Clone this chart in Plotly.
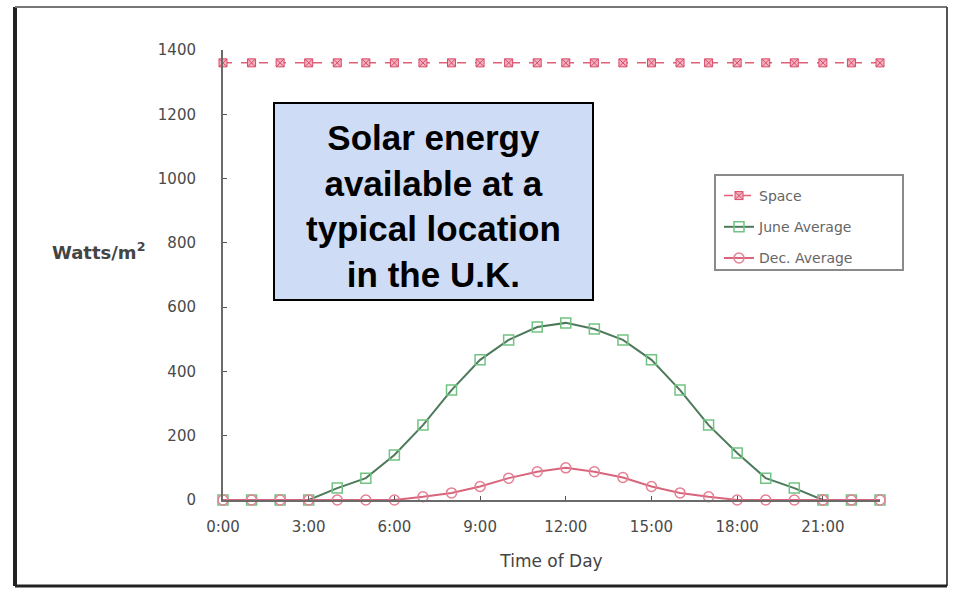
import plotly.graph_objects as go

# ---------------- data ----------------
hours = list(range(24))
hour_labels = ["0:00", "3:00", "6:00", "9:00", "12:00", "15:00", "18:00", "21:00"]
label_hours = [0, 3, 6, 9, 12, 15, 18, 21]

space = [1360] * 24
june_avg = [0, 0, 0, 0, 37, 68, 140, 233, 342, 436, 498, 538, 551, 532, 498, 436, 342, 233, 146, 68, 37, 0, 0, 0]
dec_avg = [0, 0, 0, 0, 0, 0, 0, 10, 22, 42, 68, 88, 100, 88, 70, 42, 22, 10, 0, 0, 0, 0, 0, 0]

y_ticks = [0, 200, 400, 600, 800, 1000, 1200, 1400]

# ---------------- layout geometry ----------------
W, H = 961, 597
L, R, T, B = 223, 81, 50, 97
PW, PH = W - L - R, H - T - B


def fx(p):
    return (p - L) / PW


def fy(p):
    return (H - B - p) / PH


TICK_FONT = dict(family="DejaVu Sans", size=15, color="#4a4a4a")

fig = go.Figure()

fig.add_trace(go.Scatter(
    x=hours, y=space, name="Space", mode="lines+markers",
    line=dict(color="#e0607a", width=1.5, dash="dash"),
    marker=dict(symbol="square-x", size=8, color="#f3b3c0",
                line=dict(color="#d84a68", width=1)),
    cliponaxis=False, legendgroup="a",
))
fig.add_trace(go.Scatter(
    x=hours, y=june_avg, name="June Average", mode="lines+markers",
    line=dict(color="#4d7a5a", width=2),
    marker=dict(symbol="square-open", size=10, color="#72c383",
                line=dict(color="#72c383", width=1.5)),
    cliponaxis=False, legendgroup="b",
))
fig.add_trace(go.Scatter(
    x=hours, y=dec_avg, name="Dec. Average", mode="lines+markers",
    line=dict(color="#d8657c", width=2),
    marker=dict(symbol="circle-open", size=10, color="#e58094",
                line=dict(color="#e58094", width=1.5)),
    cliponaxis=False, legendgroup="c",
))

shapes = [
    # legend frame
    dict(type="rect", xref="paper", yref="paper",
         x0=fx(715), x1=fx(903), y0=fy(270), y1=fy(175),
         fillcolor="white", line=dict(color="#8a8a8a", width=2), layer="above"),
    # callout box
    dict(type="rect", xref="paper", yref="paper",
         x0=fx(274), x1=fx(593), y0=fy(300), y1=fy(103),
         fillcolor="#cfdcf5", line=dict(color="black", width=2), layer="above"),
    # outer frame
    dict(type="line", xref="paper", yref="paper", x0=fx(15), x1=fx(15), y0=fy(586), y1=fy(7),
         line=dict(color="#222222", width=4)),
    dict(type="line", xref="paper", yref="paper", x0=fx(15), x1=fx(947), y0=fy(7), y1=fy(7),
         line=dict(color="#777777", width=2)),
    dict(type="line", xref="paper", yref="paper", x0=fx(947), x1=fx(947), y0=fy(586), y1=fy(7),
         line=dict(color="#555555", width=2)),
    dict(type="line", xref="paper", yref="paper", x0=fx(15), x1=fx(947), y0=fy(586), y1=fy(586),
         line=dict(color="#222222", width=3)),
]

annotations = [
    dict(text="<b>Solar energy<br>available at a<br>typical location<br>in the U.K.</b>",
         xref="paper", yref="paper", x=fx(433.5), y=fy(206), xanchor="center", yanchor="middle",
         showarrow=False, align="center",
         font=dict(family="Liberation Sans, Arial, sans-serif", size=35, color="black")),
    dict(text="<b>Watts/m<sup>2</sup></b>", xref="paper", yref="paper",
         x=fx(147), y=fy(251), xanchor="right", yanchor="middle", showarrow=False,
         font=dict(family="DejaVu Sans", size=18, color="#444444")),
]

fig.update_layout(
    width=W, height=H,
    margin=dict(l=L, r=R, t=T, b=B, pad=0),
    paper_bgcolor="white", plot_bgcolor="white",
    showlegend=True,
    legend=dict(x=fx(719), y=fy(180), xanchor="left", yanchor="top",
                bgcolor="rgba(0,0,0,0)", borderwidth=0,
                traceorder="grouped", tracegroupgap=10,
                font=dict(family="DejaVu Sans", size=14, color="#666666")),
    shapes=shapes, annotations=annotations,
    xaxis=dict(range=[0, 23], tickmode="array", tickvals=label_hours, ticktext=hour_labels,
               showgrid=False, zeroline=False, showline=True, linecolor="#6a6a6a", linewidth=2,
               ticks="inside", ticklen=4, tickcolor="#555555", tickfont=TICK_FONT,
               ticklabelstandoff=12,
               title=dict(text="Time of Day", font=dict(family="DejaVu Sans", size=17, color="#444444"),
                          standoff=20)),
    yaxis=dict(range=[0, 1400], tickmode="array", tickvals=y_ticks,
               showgrid=False, zeroline=False, showline=True, linecolor="#6a6a6a", linewidth=2,
               ticks="inside", ticklen=4, tickcolor="#555555", tickfont=TICK_FONT,
               ticklabelstandoff=22),
)

fig.write_html("out.html", config={"displayModeBar": False},
               post_script="document.body.style.margin='0';document.body.style.overflow='hidden';")
